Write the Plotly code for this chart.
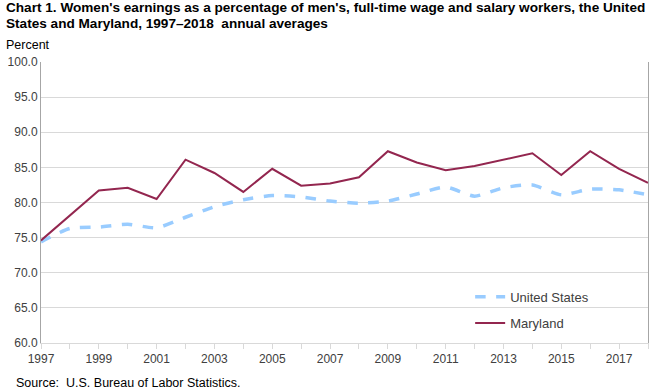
import plotly.graph_objects as go

years = list(range(1997, 2019))
us_values = [74.4, 76.3, 76.5, 76.9, 76.4, 77.9, 79.4, 80.4, 81.0, 80.8, 80.2,
             79.9, 80.2, 81.2, 82.2, 80.9, 82.1, 82.5, 81.1, 81.9, 81.8, 81.1]
md_values = [74.6, 78.2, 81.7, 82.1, 80.5, 86.1, 84.2, 81.5, 84.8, 82.4, 82.7,
             83.6, 87.3, 85.7, 84.6, 85.2, 86.1, 87.0, 83.9, 87.3, 84.8, 82.8]
x_tick_years = list(range(1997, 2019, 2))
y_ticks = [60, 65, 70, 75, 80, 85, 90, 95, 100]

FONT = "Liberation Sans, Arial, sans-serif"

fig = go.Figure()
fig.add_trace(go.Scatter(
    x=years, y=us_values, name="United States", mode="lines",
    line=dict(color="#99CCFF", width=3.5, dash="dash", shape="spline", smoothing=0.6),
    legend="legend",
))
fig.add_trace(go.Scatter(
    x=years, y=md_values, name="Maryland", mode="lines",
    line=dict(color="#93264F", width=2),
    legend="legend2",
))

fig.update_layout(
    width=650, height=391,
    margin=dict(l=41, r=2, t=62, b=48),
    paper_bgcolor="white", plot_bgcolor="white",
    font=dict(family=FONT, size=12, color="#404040"),
    showlegend=True,
    legend=dict(x=0.707, y=0.164, xanchor="left", yanchor="middle",
                bgcolor="rgba(0,0,0,0)", font=dict(size=13, color="#404040")),
    legend2=dict(x=0.707, y=0.071, xanchor="left", yanchor="middle",
                 bgcolor="rgba(0,0,0,0)", font=dict(size=13, color="#404040")),
    xaxis=dict(
        range=[1997, 2018], tickvals=x_tick_years,
        ticktext=[str(v) for v in x_tick_years],
        showgrid=False, zeroline=False,
        showline=True, linecolor="#D9D9D9", linewidth=1,
        ticks="outside", ticklen=5, tickcolor="#D9D9D9",
        minor=dict(ticks="outside", dtick=1, tick0=1997, ticklen=5, tickcolor="#D9D9D9"),
        tickfont=dict(size=12, color="#404040"),
    ),
    yaxis=dict(
        range=[60, 100], tickvals=y_ticks, tickformat=".1f",
        showgrid=True, gridcolor="#D9D9D9", gridwidth=1, zeroline=False,
        showline=True, linecolor="#A6A6A6", linewidth=1, mirror=True,
        ticks="", tickfont=dict(size=12, color="#404040"),
    ),
    annotations=[
        dict(text="<b>Chart 1. Women's earnings as a percentage of men's, full-time wage and salary workers, the United</b>",
             xref="paper", yref="paper", x=-37/607, y=1 + 54/281, xanchor="left", yanchor="middle",
             showarrow=False, font=dict(family=FONT, size=13.6, color="#000000")),
        dict(text="<b>States and Maryland, 1997–2018  annual averages</b>",
             xref="paper", yref="paper", x=-37/607, y=1 + 39/281, xanchor="left", yanchor="middle",
             showarrow=False, font=dict(family=FONT, size=13.6, color="#000000")),
        dict(text="Percent",
             xref="paper", yref="paper", x=-37/607, y=1 + 17/281, xanchor="left", yanchor="middle",
             showarrow=False, font=dict(family=FONT, size=12.5, color="#000000")),
        dict(text="Source:  U.S. Bureau of Labor Statistics.",
             xref="paper", yref="paper", x=-27/607, y=-40/281, xanchor="left", yanchor="middle",
             showarrow=False, font=dict(family=FONT, size=12.5, color="#000000")),
    ],
)

fig.write_html("out.html", config={"displayModeBar": False},
               post_script="document.body.style.margin='0';")
